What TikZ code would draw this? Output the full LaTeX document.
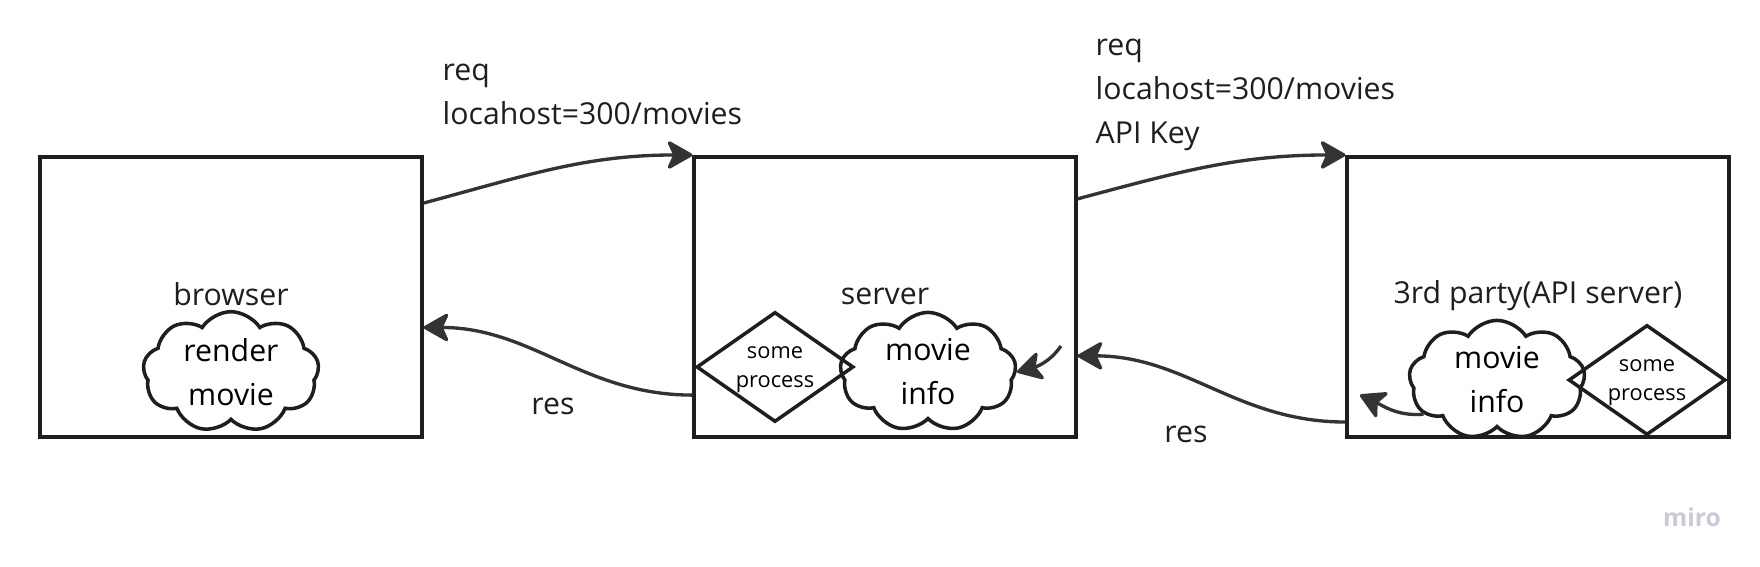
\documentclass[tikz,border=0pt]{standalone}
\usepackage{fontspec}
\setmainfont{Open Sans}
\usetikzlibrary{arrows.meta,shapes.geometric,shapes.symbols}
\definecolor{boxink}{HTML}{1E1E1E}
\definecolor{arrowink}{HTML}{333333}
\definecolor{miroink}{HTML}{C9CAD6}

\begin{document}
\begin{tikzpicture}[x=0.01cm, y=0.01cm,
  >={Stealth[length=8pt, width=9pt, inset=2pt, round]},
  font=\fontsize{8.6}{12.5}\selectfont,
  hostbox/.style={draw=boxink, line width=1.1pt, minimum width=3.81cm, minimum height=2.8cm, inner sep=0pt},
  cloudbox/.style={cloud, cloud puffs=9, cloud puff arc=115, aspect=1.75, draw=boxink, line width=1pt,
    align=center, inner sep=0pt, minimum width=1.76cm, minimum height=1.01cm},
  procbox/.style={diamond, aspect=1.4, draw=boxink, line width=1pt, align=center, inner sep=0pt,
    text depth=0pt, minimum width=1.57cm, minimum height=1.1cm, font=\fontsize{6.2}{8.3}\selectfont},
  flow/.style={->, draw=arrowink, line width=0.95pt},
  tag/.style={inner sep=0pt, align=left, text=boxink}]

  \useasboundingbox (0,0) rectangle (1760,567);
  % ---------------- hosts ----------------
  \foreach \name/\x in {browser/231, server/885, third/1538}
    \node[hostbox] (\name) at (\x,270) {};
  \node[tag] (browserlbl) at (231,273) {browser};
  \node[tag] (serverlbl) at (885,271) {server};
  \node[tag] (thirdlbl) at (1538,271) {3rd party(API server)};

  % ---------------- what happens inside ----------------
  \node[cloudbox] (rendercloud) at (231,195) {render\\movie};
  \node[procbox] (srvproc) at (775,200) {some\\process};
  \node[cloudbox] (srvcloud) at (928,195) {movie\\info};
  \node[cloudbox] (apicloud) at (1497,187) {movie\\info};
  \node[procbox] (apiproc) at (1647,187) {some\\process};

  % ---------------- requests ----------------
  \node[tag, anchor=west] (req1) at (442,473) {req\\locahost=300/movies};
  \node[tag, anchor=west] (req2) at (1095,472) {req\\locahost=300/movies\\API Key};
  \draw[flow] (browser.26) to[out=15, in=180] (server.north west);
  \draw[flow] (server.27) to[out=15, in=180] (third.north west);

  % ---------------- responses ----------------
  \node[tag] (res1) at (553,161) {res};
  \node[tag] (res2) at (1186,133) {res};
  \draw[flow] (server.207) to[out=180, in=0] (browser.-9);
  \draw[flow] (third.213) to[out=180, in=0] (server.-17);

  % small hand-offs to the clouds
  \coordinate (srvhook) at (1061,221);
  \draw[flow] (srvhook) to[out=235, in=15] (srvcloud.east);
  \coordinate (apihook) at (1360,172);
  \draw[flow] (apicloud.205) to[out=185, in=-25] (apihook);

  \node[text=miroink, font=\bfseries\fontsize{7}{8}\selectfont] (miro) at (1692,50) {miro};
\end{tikzpicture}
\end{document}
